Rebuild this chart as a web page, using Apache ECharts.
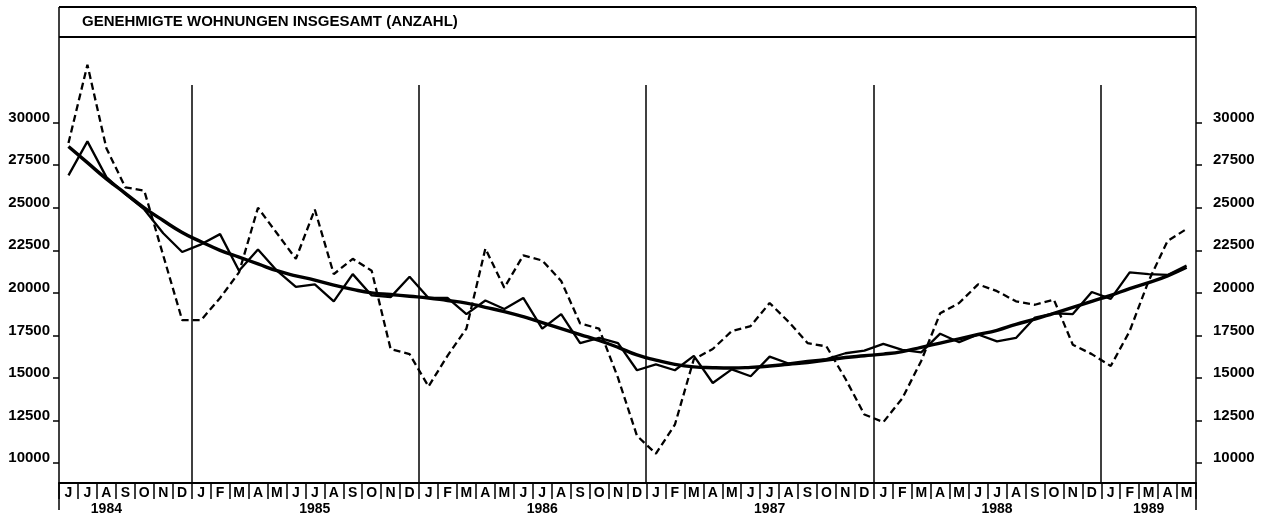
<!DOCTYPE html>
<html>
<head>
<meta charset="utf-8">
<script src="https://cdn.jsdelivr.net/npm/echarts@6/dist/echarts.min.js"></script>
<style>
  html, body { margin: 0; padding: 0; background: #fff; }
  #chart { width: 1268px; height: 519px; }
</style>
</head>
<body>
<div id="chart"></div>
<script>
// Months from June 1984 to May 1989
const months = [
  'J','J','A','S','O','N','D',
  'J','F','M','A','M','J','J','A','S','O','N','D',
  'J','F','M','A','M','J','J','A','S','O','N','D',
  'J','F','M','A','M','J','J','A','S','O','N','D',
  'J','F','M','A','M','J','J','A','S','O','N','D',
  'J','F','M','A','M'
];

// Year captions, one slot per month (blank where no caption is drawn)
const yearRow = [
  '','','1984','','','','',
  '','','','','','','1985','','','','','',
  '','','','','','','1986','','','','','',
  '','','','','','','1987','','','','','',
  '','','','','','','1988','','','','','',
  '','','1989','',''
];

// Index of the first month (January) of each new year
const yearStarts = [7, 19, 31, 43, 55];

const yTicks = [10000, 12500, 15000, 17500, 20000, 22500, 25000, 27500, 30000];

// Monthly approvals, original figures (dashed)
const rawValues = [
  28800, 33400, 28500, 26200, 26000, 22200, 18400,
  18400, 19700, 21200, 25000, 23500, 22000, 24900, 21100, 22000, 21300, 16700, 16400,
  14500, 16300, 17900, 22600, 20300, 22200, 21900, 20700, 18200, 17900, 15000, 11600,
  10550, 12250, 16100, 16700, 17750, 18050, 19400, 18300, 17050, 16850, 14950, 12850,
  12400, 13800, 16000, 18800, 19400, 20500, 20100, 19500, 19300, 19600, 16950, 16400,
  15700, 17750, 20700, 23050, 23750
];

// Seasonally adjusted figures (thin solid)
const adjustedValues = [
  26900, 28900, 26800, 25800, 24900, 23500, 22400,
  22850, 23450, 21300, 22550, 21300, 20350, 20500, 19500, 21100, 19850, 19750, 20950,
  19700, 19700, 18750, 19550, 19050, 19700, 17900, 18750, 17050, 17350, 17050, 15450,
  15800, 15450, 16300, 14700, 15500, 15100, 16250, 15850, 16000, 16100, 16450, 16600,
  17000, 16650, 16500, 17600, 17100, 17550, 17150, 17350, 18550, 18800, 18750, 20050,
  19650, 21200, 21100, 21050, 21600
];

// Trend component (thick smooth)
const trendValues = [
  28600, 27650, 26700, 25850, 25000, 24250, 23550,
  23000, 22500, 22100, 21700, 21300, 21000, 20750, 20450, 20200, 20000, 19900, 19800,
  19700, 19550, 19400, 19150, 18900, 18600, 18250, 17900, 17550, 17200, 16800, 16350,
  16050, 15800, 15650, 15600, 15580, 15620, 15700, 15800, 15900, 16050, 16200, 16300,
  16400, 16550, 16800, 17050, 17300, 17550, 17800, 18150, 18450, 18800, 19150, 19500,
  19850, 20250, 20600, 21000, 21500
];

const TITLE = 'GENEHMIGTE WOHNUNGEN INSGESAMT (ANZAHL)';
const FONT = "'Liberation Sans', Arial, sans-serif";
const INK = '#000';

const GRID = { left: 59, right: 72, top: 37, bottom: 36 };
const W = 1268, H = 519;
const frameL = GRID.left, frameR = W - GRID.right;
const axisY = H - GRID.bottom;

function valueAxis(position, margin) {
  return {
    type: 'value',
    position: position,
    min: 8825,
    max: 35035,
    axisLine: { show: false },
    splitLine: { show: false },
    axisTick: {
      show: true,
      customValues: yTicks,
      length: 6,
      lineStyle: { color: INK, width: 1.5 }
    },
    axisLabel: {
      customValues: yTicks,
      formatter: function (v) { return String(v); },
      margin: margin,
      color: INK,
      fontFamily: FONT,
      fontWeight: 'bold',
      fontSize: 15,
      verticalAlign: 'bottom',
      lineHeight: 10
    }
  };
}

const chart = echarts.init(document.getElementById('chart'), null, { renderer: 'canvas' });

chart.setOption({
  animation: false,
  backgroundColor: '#fff',
  grid: GRID,
  xAxis: [
    {
      type: 'category',
      data: months,
      boundaryGap: true,
      axisLine: { show: true, lineStyle: { color: INK, width: 2 } },
      axisTick: { show: true, interval: 0, length: 16, lineStyle: { color: INK, width: 1.5 } },
      axisLabel: {
        interval: 0, margin: 3, color: INK,
        fontFamily: FONT, fontWeight: 'bold', fontSize: 14
      },
      splitLine: { show: false }
    },
    {
      type: 'category',
      data: yearRow,
      position: 'bottom',
      boundaryGap: true,
      axisLine: { show: false },
      axisTick: { show: false },
      axisLabel: {
        interval: 0, margin: 19, color: INK,
        fontFamily: FONT, fontWeight: 'bold', fontSize: 14
      },
      splitLine: { show: false }
    }
  ],
  yAxis: [valueAxis('left', 9), valueAxis('right', 17)],
  series: [
    {
      name: 'Ursprungswerte',
      type: 'line',
      data: rawValues,
      symbol: 'none',
      lineStyle: { color: INK, width: 2.3, type: [7, 4] },
      z: 2
    },
    {
      name: 'Saisonbereinigt',
      type: 'line',
      data: adjustedValues,
      symbol: 'none',
      lineStyle: { color: INK, width: 2.3 },
      z: 3
    },
    {
      name: 'Trend',
      type: 'line',
      data: trendValues,
      symbol: 'none',
      smooth: true,
      lineStyle: { color: INK, width: 3.4 },
      z: 4
    }
  ]
});

// Frame, title box and year separators
const graphics = [
  { type: 'line', shape: { x1: frameL, y1: 7, x2: frameR, y2: 7 }, style: { stroke: INK, lineWidth: 2 } },
  { type: 'line', shape: { x1: frameL, y1: GRID.top, x2: frameR, y2: GRID.top }, style: { stroke: INK, lineWidth: 2 } },
  { type: 'line', shape: { x1: frameL, y1: 7, x2: frameL, y2: 510 }, style: { stroke: INK, lineWidth: 1.5 } },
  { type: 'line', shape: { x1: frameR, y1: 7, x2: frameR, y2: 510 }, style: { stroke: INK, lineWidth: 1.5 } },
  {
    type: 'text', x: 82, y: 22,
    style: {
      text: TITLE, fill: INK, font: 'bold 15px ' + FONT,
      textVerticalAlign: 'middle', verticalAlign: 'middle'
    }
  }
];

yearStarts.forEach(function (idx) {
  const a = chart.convertToPixel({ xAxisIndex: 0 }, idx - 1);
  const b = chart.convertToPixel({ xAxisIndex: 0 }, idx);
  const x = Math.round((a + b) / 2);
  graphics.push({
    type: 'line',
    shape: { x1: x, y1: 85, x2: x, y2: axisY },
    style: { stroke: INK, lineWidth: 1.5 }
  });
});

chart.setOption({ graphic: graphics });
</script>
</body>
</html>
